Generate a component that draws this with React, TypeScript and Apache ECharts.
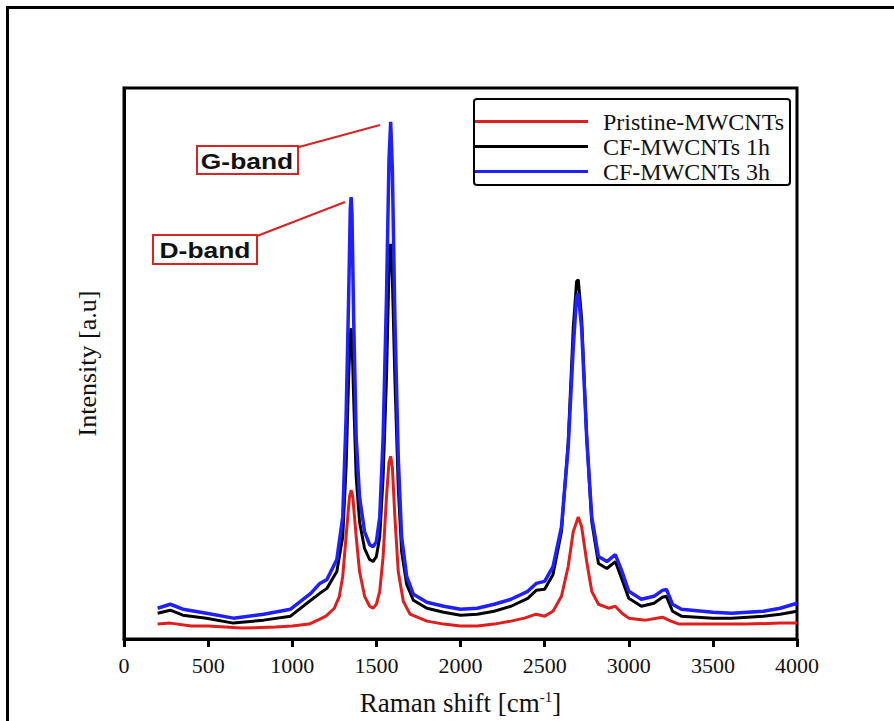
import React, { useEffect, useRef } from "react";
import * as echarts from "echarts";

// Raman shift (cm-1) sample points
const pristineShift = [200,275,400,500,700,900,1000,1100,1164,1200,1250,1280,1300,1320,1340,1350,1360,1380,1400,1430,1460,1480,1500,1520,1540,1560,1575,1585,1595,1610,1630,1660,1700,1800,1900,2000,2100,2200,2300,2380,2450,2500,2550,2600,2640,2670,2700,2720,2750,2780,2820,2880,2920,2960,3000,3100,3200,3250,3300,3500,3700,3900,4000];
const pristineIntensity = [15,16,13,13,11,12,13,15,20,23,31,43,63,103,143,150,143,103,68,43,33,31,35,48,83,143,178,184,173,123,68,38,25,18,15,13,13,15,18,21,25,23,28,43,73,108,123,113,78,48,35,31,33,26,21,19,22,18,15,15,15,16,16];

const treatedShift = [200,275,350,490,650,830,990,1110,1164,1206,1265,1300,1320,1335,1345,1350,1355,1365,1380,1400,1430,1460,1480,1500,1520,1540,1560,1575,1585,1595,1610,1630,1650,1680,1720,1800,1900,2000,2100,2200,2300,2400,2450,2500,2550,2600,2640,2670,2690,2700,2720,2750,2780,2820,2870,2920,2960,3000,3075,3150,3200,3224,3260,3313,3500,3612,3800,3900,4000];
const cf1hIntensity = [26,29,24,21,16,19,23,39,46,51,68,103,173,263,308,313,303,243,163,118,91,80,78,83,103,163,263,373,398,363,263,153,88,55,39,31,27,24,25,28,33,41,49,50,65,108,198,313,360,362,323,203,118,76,71,78,60,41,33,36,42,43,28,23,21,21,23,25,28];
const cf3hIntensity = [31,35,30,26,21,25,30,46,56,60,80,123,223,343,433,445,428,323,203,143,108,95,93,98,123,203,343,483,521,473,323,183,103,63,45,37,33,30,31,35,40,48,56,58,73,113,193,293,345,348,313,203,123,83,78,85,68,48,40,43,49,50,35,30,27,26,28,31,36];

const seriesNames = ["Pristine-MWCNTs", "CF-MWCNTs 1h", "CF-MWCNTs 3h"];
const seriesColors = ["#e01e1e", "#000000", "#1f1fff"];
const xTicks = { min: 0, max: 4000, interval: 500 };
const yRange = { min: 0, max: 555 };
const bandLabels = ["G-band", "D-band"];

const zip = (xs: number[], ys: number[]) => xs.map((x, i) => [x, ys[i]]);

export default function App() {
  const ref = useRef<HTMLDivElement>(null);
  useEffect(() => {
    if (!ref.current) return;
    const chart = echarts.init(ref.current, null, { renderer: "svg" });
    const serif = "'Liberation Serif', 'Times New Roman', serif";
    const sans = "'Liberation Sans', Arial, sans-serif";
    const red = "#d82424";
    chart.setOption({
      animation: false,
      backgroundColor: "#ffffff",
      grid: {
        left: 124, right: 97, top: 88, bottom: 78,
        show: true, borderColor: "#000", borderWidth: 3,
      },
      legend: {
        orient: "vertical",
        left: 474, top: 99,
        data: seriesNames,
        icon: "rect",
        itemWidth: 113, itemHeight: 3,
        itemGap: 0, itemTextGap: 15,
        padding: [10, 6, 1, 1],
        borderColor: "#000", borderWidth: 2, borderRadius: 3,
        textStyle: { fontFamily: serif, fontSize: 24, color: "#111", lineHeight: 25, padding: [0, 0, 0, 10] },
      },
      xAxis: {
        type: "value",
        min: xTicks.min, max: xTicks.max, interval: xTicks.interval,
        name: "Raman shift [cm{sup|-1}]",
        nameLocation: "middle", nameGap: 50,
        nameTextStyle: {
          fontFamily: serif, fontSize: 27, color: "#111",
          rich: { sup: { fontFamily: serif, fontSize: 15, color: "#111", verticalAlign: "top", padding: [0, 0, 12, 0] } },
        },
        axisLine: { show: true, lineStyle: { color: "#000", width: 3 } },
        axisTick: { show: true, length: 8, lineStyle: { color: "#000", width: 3 } },
        axisLabel: { fontFamily: serif, fontSize: 22, color: "#111", margin: 15, formatter: (v: number) => String(v) },
        splitLine: { show: false },
      },
      yAxis: {
        type: "value",
        min: yRange.min, max: yRange.max,
        name: "Intensity [a.u]",
        nameLocation: "middle", nameGap: 24,
        nameTextStyle: { fontFamily: serif, fontSize: 26, color: "#111" },
        axisLine: { show: true, lineStyle: { color: "#000", width: 3 } },
        axisTick: { show: false },
        axisLabel: { show: false },
        splitLine: { show: false },
      },
      series: [
        { name: seriesNames[0], type: "line", data: zip(pristineShift, pristineIntensity), showSymbol: false, symbol: "none", lineStyle: { color: seriesColors[0], width: 3 }, itemStyle: { color: seriesColors[0] }, z: 3 },
        { name: seriesNames[1], type: "line", data: zip(treatedShift, cf1hIntensity), showSymbol: false, symbol: "none", lineStyle: { color: seriesColors[1], width: 3 }, itemStyle: { color: seriesColors[1] }, z: 2 },
        { name: seriesNames[2], type: "line", data: zip(treatedShift, cf3hIntensity), showSymbol: false, symbol: "none", lineStyle: { color: seriesColors[2], width: 3.5 }, itemStyle: { color: seriesColors[2] }, z: 2 },
      ],
      graphic: [
        { type: "rect", left: 5, top: 5, shape: { width: 1000, height: 1000 }, style: { fill: "none", stroke: "#000", lineWidth: 3 }, silent: true, z: 0 },
        { type: "line", shape: { x1: 299, y1: 147, x2: 380, y2: 125 }, style: { stroke: red, lineWidth: 2 }, z: 10 },
        { type: "line", shape: { x1: 257, y1: 236, x2: 345, y2: 202 }, style: { stroke: red, lineWidth: 2 }, z: 10 },
        { type: "rect", shape: { x: 197, y: 146, width: 101, height: 28 }, style: { fill: "#fff", stroke: red, lineWidth: 2 }, z: 10 },
        { type: "rect", shape: { x: 153, y: 235, width: 104, height: 29 }, style: { fill: "#fff", stroke: red, lineWidth: 2 }, z: 10 },
        { type: "text", x: 247, y: 161, scaleX: 1.2, style: { text: bandLabels[0], font: `bold 22px ${sans}`, fill: "#111", textAlign: "center", textVerticalAlign: "middle" }, z: 11 },
        { type: "text", x: 205, y: 250, scaleX: 1.2, style: { text: bandLabels[1], font: `bold 22px ${sans}`, fill: "#111", textAlign: "center", textVerticalAlign: "middle" }, z: 11 },
      ],
    });
    return () => chart.dispose();
  }, []);
  return (
    <div style={{ position: "fixed", left: 0, top: 0, width: 894, height: 721, background: "#fff" }}>
      <div ref={ref} style={{ width: 894, height: 721 }} />
    </div>
  );
}
